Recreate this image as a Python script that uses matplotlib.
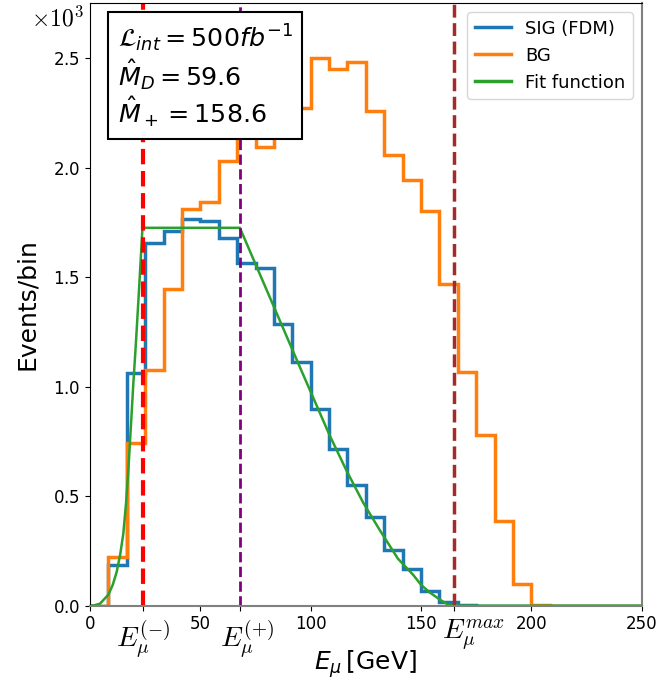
import numpy as np
import matplotlib.pyplot as plt
from matplotlib.lines import Line2D

# bin edges (GeV) and per-bin counts
edges = np.linspace(0, 250, 31)
sig = [0, 187, 1062, 1654, 1712, 1763, 1756, 1680, 1565, 1543,
       1284, 1114, 899, 716, 552, 406, 256, 168, 69, 18,
       3, 0, 0, 0, 0, 0, 0, 0, 0, 0]
bg = [0, 221, 742, 1074, 1447, 1810, 1843, 2029, 2200, 2095,
      2300, 2270, 2498, 2452, 2480, 2259, 2057, 1942, 1801, 1470,
      1069, 777, 388, 99, 5, 0, 0, 0, 0, 0]

# fit curve
fit_x = [0, 2, 4.5, 8.3, 10.3, 12.1, 13.7, 15.1, 16.3, 17.4, 18.5, 19.6,
         20.8, 21.9, 22.8, 23.7, 24.3, 67.9, 95.1, 108.7, 116.3, 123.8,
         131.3, 139.5, 146.5, 150.0, 154.0, 158.5, 162.0, 165.0, 250]
fit_y = [0, 2, 9, 50, 95, 155, 235, 330, 465, 625, 815, 1010,
         1200, 1390, 1550, 1714, 1725, 1725, 1089, 775, 615, 470,
         345, 215, 140, 95, 60, 28, 6, 0, 0]

# kinematic edges and their labels
e_pos = [23.9, 67.9, 165.0]
e_lab = [r'$E_\mu^{(-)}$', r'$E_\mu^{(+)}$', r'$E_\mu^{max}$']
e_shift = [0, 5, 14]

fig, ax = plt.subplots(figsize=(6.6, 6.81), dpi=100)
fig.subplots_adjust(left=0.1364, right=0.9723, bottom=0.1106, top=0.9952)

ax.stairs(sig, edges, color='tab:blue', lw=2.5, label='SIG (FDM)')
ax.stairs(bg, edges, color='tab:orange', lw=2.5, label='BG')
ax.plot(fit_x, fit_y, color='tab:green', lw=1.8, label='Fit function')

ax.axvline(e_pos[0], color='red', ls='--', lw=3)
ax.axvline(e_pos[1], color='purple', ls='--', lw=2)
ax.axvline(e_pos[2], color='brown', ls='--', lw=2.5)

ax.set_xlim(0, 250)
ax.set_ylim(0, 2750)
ax.set_xticks([0, 50, 100, 150, 200, 250])
ax.set_yticks([0, 500, 1000, 1500, 2000, 2500])
ax.ticklabel_format(axis='y', style='sci', scilimits=(0, 0), useMathText=True)
ax.yaxis.get_offset_text().set_visible(False)
ax.tick_params(labelsize=12)

ax.set_xticks(e_pos, minor=True)
ax.tick_params(axis='x', which='minor', length=3.5, width=0.8)
for x, lab, dx in zip(e_pos, e_lab, e_shift):
    ax.annotate(lab, xy=(x, 0), xycoords=('data', 'axes fraction'),
                xytext=(dx, -9), textcoords='offset points',
                ha='center', va='top', fontsize=20, math_fontfamily='cm')

ax.text(-0.012, 0.995, r'$\times10^3$', transform=ax.transAxes, ha='right', va='top',
        fontsize=17, math_fontfamily='cm')

for s in ['bottom', 'right']:
    ax.spines[s].set_color('#808080')
    ax.spines[s].set_linewidth(1.5)

ax.set_xlabel(r'$E_\mu\,$[GeV]', fontsize=18, labelpad=11)
ax.set_ylabel('Events/bin', fontsize=18, labelpad=10)

handles = [Line2D([], [], color='tab:blue', lw=2.5),
           Line2D([], [], color='tab:orange', lw=2.5),
           Line2D([], [], color='tab:green', lw=2.5)]
ax.legend(handles, ['SIG (FDM)', 'BG', 'Fit function'], loc='upper right', fontsize=13)

ax.text(0.05, 0.968,
        r'$\mathcal{L}_{int} = 500fb^{-1}$' + '\n' + r'$\hat{M}_D = 59.6$' + '\n' + r'$\hat{M}_+ = 158.6$',
        transform=ax.transAxes, ha='left', va='top', fontsize=18.3, linespacing=1.1,
        bbox=dict(boxstyle='square,pad=0.38', fc='white', ec='black', lw=1.5), zorder=5)

fig.savefig('out.png', dpi=100)
